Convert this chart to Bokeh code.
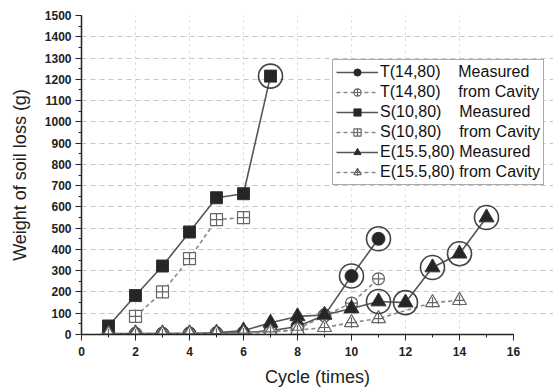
from bokeh.plotting import figure
from bokeh.models import Range1d, Legend, LegendItem, SingleIntervalTicker, FixedTicker
from bokeh.embed import file_html
from bokeh.resources import INLINE

# ---- data ----
t_meas_x = [1, 2, 3, 4, 5, 6, 7, 8, 9, 10, 11]
t_meas_y = [3, 3, 4, 5, 6, 8, 18, 38, 90, 275, 450]
t_cav_x = [1, 2, 3, 4, 5, 6, 7, 8, 9, 10, 11]
t_cav_y = [1, 1, 2, 2, 3, 5, 12, 25, 88, 148, 262]

s_meas_x = [1, 2, 3, 4, 5, 6, 7]
s_meas_y = [40, 183, 322, 482, 643, 662, 1215]
s_cav_x = [2, 3, 4, 5, 6]
s_cav_y = [85, 200, 357, 540, 550]

e_meas_x = [1, 2, 3, 4, 5, 6, 7, 8, 9, 10, 11, 12, 13, 14, 15]
e_meas_y = [5, 5, 5, 5, 8, 18, 55, 85, 92, 122, 155, 150, 315, 380, 550]
e_cav_x = [1, 2, 3, 4, 5, 6, 7, 8, 9, 10, 11, 13, 14]
e_cav_y = [2, 2, 2, 3, 4, 6, 12, 20, 33, 56, 75, 150, 160]

# cycles whose measured point is ringed
t_ring_cycles = [10, 11]
s_ring_cycles = [7]
e_ring_cycles = [11, 12, 13, 14, 15]

NB = "\u00a0"
labels = [
    "T(14,80)" + NB * 4 + "Measured",
    "T(14,80)" + NB * 4 + "from Cavity",
    "S(10,80)" + NB * 4 + "Measured",
    "S(10,80)" + NB * 4 + "from Cavity",
    "E(15.5,80)" + NB + "Measured",
    "E(15.5,80)" + NB + "from Cavity",
]

x_label = "Cycle (times)"
y_label = "Weight of soil loss (g)"

FONT = "Liberation Sans"

X_AXIS_END = 16
FRAME_LEFT = 81
FRAME_W_AXIS = 432  # pixels from 0 to 16
W = 553
x_view_end = X_AXIS_END * (W - FRAME_LEFT) / FRAME_W_AXIS

p = figure(width=W, height=391, output_backend="svg", toolbar_location=None,
           x_range=Range1d(0, x_view_end), y_range=Range1d(0, 1500),
           min_border_left=FRAME_LEFT, min_border_right=0, min_border_top=15, min_border_bottom=57)
p.outline_line_color = None
p.background_fill_color = "white"
p.border_fill_color = "white"

# axes
p.xaxis.ticker = SingleIntervalTicker(interval=2, num_minor_ticks=2)
p.yaxis.ticker = SingleIntervalTicker(interval=100, num_minor_ticks=2)
p.xaxis.bounds = (0, X_AXIS_END)
for ax in (p.xaxis[0], p.yaxis[0]):
    ax.axis_line_color = "#222"
    ax.axis_line_width = 1.5
    ax.major_tick_line_color = "#222"
    ax.minor_tick_line_color = "#222"
    ax.major_tick_out = 6
    ax.major_tick_in = 0
    ax.minor_tick_out = 3
    ax.minor_tick_in = 0
    ax.major_label_text_font = FONT
    ax.major_label_text_font_style = "bold"
    ax.major_label_text_font_size = "12px"
    ax.major_label_text_color = "#222"
    ax.axis_label_text_font = FONT
    ax.axis_label_text_font_style = "normal"
    ax.axis_label_text_font_size = "18px"
    ax.axis_label_text_color = "#222"
p.xaxis.axis_label = x_label
p.yaxis.axis_label = y_label
p.xaxis.major_label_standoff = 6
p.yaxis.major_label_standoff = 4
p.xaxis.axis_label_standoff = 8
p.yaxis.axis_label_standoff = 12

# grid
p.xgrid.ticker = FixedTicker(ticks=[2, 4, 6, 8, 10, 12, 14])
p.ygrid.ticker = FixedTicker(ticks=list(range(100, 1500, 100)))
p.xgrid.bounds = (0, 1500)
p.ygrid.bounds = (0, X_AXIS_END)
p.xgrid.grid_line_color = "#d0d0d0"
p.ygrid.grid_line_color = "#c8c8c8"
p.xgrid.grid_line_dash = "2 4"
p.ygrid.grid_line_dash = "5 4"
p.xgrid.grid_line_width = 1
p.ygrid.grid_line_width = 1

MEAS_LINE = "#555555"
CAV_LINE = "#8a8a8a"
FILL = "#262626"

items = []

def meas_series(xs, ys, marker, size, label):
    l = p.line(xs, ys, line_color=MEAS_LINE, line_width=1.6)
    s = p.scatter(xs, ys, marker=marker, size=size, fill_color=FILL, line_color="#333")
    items.append(LegendItem(label=label, renderers=[l, s]))

def cav_series(xs, ys, marker, size, label, overlay=None):
    l = p.line(xs, ys, line_color=CAV_LINE, line_width=1.6, line_dash="4 3")
    s = p.scatter(xs, ys, marker=marker, size=size, fill_color="white", line_color="#666", line_width=1.2)
    rs = [l, s]
    if overlay:
        o = p.scatter(xs, ys, marker=overlay, size=size * 0.75, line_color="#666", line_width=1.2)
        rs.append(o)
    items.append(LegendItem(label=label, renderers=rs))

meas_series(t_meas_x, t_meas_y, "circle", 13, labels[0])
cav_series(t_cav_x, t_cav_y, "circle_cross", 12, labels[1])
meas_series(s_meas_x, s_meas_y, "square", 12, labels[2])
cav_series(s_cav_x, s_cav_y, "square_cross", 12, labels[3])
meas_series(e_meas_x, e_meas_y, "triangle", 15, labels[4])
cav_series(e_cav_x, e_cav_y, "triangle", 14, labels[5], overlay="cross")

# rings around selected measured points
def ring(xs, ys, cycles):
    rx = [x for x in xs if x in cycles]
    ry = [y for x, y in zip(xs, ys) if x in cycles]
    p.scatter(rx, ry, marker="circle", size=24, fill_color=None, line_color="#444", line_width=1.6)

ring(t_meas_x, t_meas_y, t_ring_cycles)
ring(s_meas_x, s_meas_y, s_ring_cycles)
ring(e_meas_x, e_meas_y, e_ring_cycles)

legend = Legend(items=items, location=(251, 149))
legend.label_text_font = FONT
legend.label_text_font_size = "16px"
legend.label_text_color = "#111"
legend.label_height = 18
legend.label_standoff = 2
legend.glyph_width = 42
legend.glyph_height = 18
legend.spacing = 2
legend.padding = 3
legend.margin = 0
legend.border_line_color = "#555"
legend.border_line_width = 1
legend.background_fill_color = "white"
legend.background_fill_alpha = 1
p.add_layout(legend, "center")

open("out.html", "w").write(file_html(p, INLINE))
